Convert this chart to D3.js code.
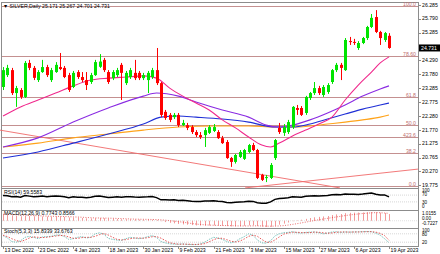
<!DOCTYPE html>
<html><head><meta charset="utf-8">
<script src="https://cdn.jsdelivr.net/npm/d3@7"></script>
<style>body{margin:0;background:#fff;}svg{display:block;font-family:"Liberation Sans",Arial,sans-serif;}</style>
</head><body><svg id="c" width="440" height="254"></svg>
<script>
// ---------- DATA ----------
const title = "SILVER,Daily  25.171 25.267 24.701 24.731";
const tickLabels = ["13 Dec 2022","23 Dec 2022","4 Jan 2023","18 Jan 2023","30 Jan 2023","9 Feb 2023","21 Feb 2023","3 Mar 2023","15 Mar 2023","27 Mar 2023","6 Apr 2023","19 Apr 2023"];
const barsPerTick = 8;
const open  = [23.32,23.75,23.93,23.10,23.21,22.96,24.19,24.01,23.57,23.86,24.04,23.57,23.86,24.04,24.01,23.75,23.32,23.86,23.68,23.57,23.50,23.75,24.05,24.30,23.86,23.64,23.75,24.12,23.46,23.68,23.83,23.83,23.64,23.57,23.68,23.93,23.46,22.42,22.31,22.23,22.31,21.94,21.94,21.87,21.69,21.58,21.58,21.66,21.73,21.69,21.47,21.33,20.75,20.61,20.79,20.72,20.97,21.22,21.04,20.14,20.03,20.03,20.75,21.84,21.66,21.69,21.87,22.56,22.56,22.38,22.92,23.10,23.28,23.03,23.14,23.50,23.93,24.12,23.93,24.98,24.95,24.73,24.91,25.09,25.49,25.85,25.31,25.02,25.171];
const high  = [24.04,24.12,24.01,23.36,23.28,24.26,24.30,24.08,23.93,24.30,24.12,24.01,24.22,24.55,24.08,23.83,23.90,23.93,23.86,23.86,23.83,24.30,24.51,24.37,23.93,23.93,24.01,24.19,23.90,24.01,24.30,23.90,23.83,23.90,24.01,24.73,23.50,22.49,22.38,22.38,22.38,22.13,22.02,21.94,21.76,21.69,21.84,21.94,21.98,21.76,21.55,21.40,20.79,20.90,21.04,21.08,21.26,21.30,21.08,20.18,20.14,20.57,21.44,22.02,21.98,22.13,22.63,22.67,22.63,23.00,23.14,23.50,23.36,23.39,23.46,23.97,24.19,24.19,25.09,25.13,25.06,24.98,25.13,25.53,25.96,26.10,25.35,25.31,25.267];
const low   = [23.21,23.68,23.03,22.60,22.89,22.92,23.93,23.57,23.50,23.83,23.68,23.50,23.83,23.93,23.64,23.14,23.28,23.61,23.50,23.21,23.43,23.72,24.01,23.86,23.43,23.57,23.68,22.85,23.39,23.61,23.57,23.57,23.57,23.10,23.61,23.39,22.23,22.13,22.05,22.16,21.87,21.91,21.76,21.62,21.51,21.44,21.15,21.62,21.69,21.44,21.26,20.72,20.43,20.55,20.75,20.68,20.93,21.00,19.99,19.92,19.88,19.99,20.68,21.62,21.55,21.62,21.80,22.31,22.27,22.31,22.85,23.03,23.03,22.96,23.07,23.43,23.86,23.57,23.90,24.84,24.84,24.66,24.87,25.02,25.45,25.27,24.84,24.95,24.701];
const close = [23.93,24.01,23.10,23.28,22.96,24.19,24.01,23.65,23.86,24.04,23.75,23.93,24.12,23.97,23.68,23.21,23.83,23.68,23.57,23.39,23.75,24.22,24.24,23.93,23.50,23.86,23.93,23.83,23.83,23.93,23.64,23.64,23.75,23.83,23.93,23.46,22.31,22.20,22.13,22.31,21.94,22.02,21.84,21.69,21.58,21.51,21.76,21.87,21.87,21.47,21.29,20.75,20.61,20.86,20.97,21.04,21.22,21.04,20.03,19.96,20.06,20.50,21.40,21.69,21.87,22.05,22.60,22.49,22.31,22.96,23.10,23.28,23.10,23.32,23.39,23.93,24.12,24.01,25.02,24.95,24.94,24.91,25.09,25.49,25.82,25.31,25.09,25.27,24.731];
// moving averages: [bar index, value]
const maPink   = [[0,22.27],[4,22.60],[8,22.85],[12,23.10],[16,23.36],[20,23.57],[24,23.64],[28,23.68],[32,23.72],[35,23.64],[38,23.28],[41,22.99],[44,22.74],[47,22.49],[50,22.13],[53,21.84],[56,21.51],[59,21.22],[61,21.15],[63,21.29],[66,21.55],[69,21.76],[72,21.98],[75,22.23],[78,22.85],[81,23.39],[84,23.86],[86,24.19],[88,24.41]];
const maPurple = [[0,21.15],[8,21.48],[16,22.05],[24,22.56],[32,22.99],[35,23.10],[40,22.99],[44,22.78],[50,22.49],[56,22.23],[60,21.94],[63,21.87],[66,21.94],[70,22.13],[74,22.38],[78,22.67],[82,22.99],[86,23.25],[88,23.36]];
const maBlue   = [[0,20.75],[8,20.97],[16,21.29],[24,21.62],[32,21.98],[36,22.23],[40,22.27],[44,22.23],[50,22.16],[56,22.05],[62,21.87],[66,21.87],[70,21.98],[74,22.16],[78,22.34],[82,22.52],[86,22.67],[88,22.74]];
const maOrange = [[0,21.15],[8,21.29],[16,21.48],[24,21.62],[32,21.76],[40,21.87],[48,21.91],[56,21.91],[62,21.87],[66,21.87],[70,21.91],[74,21.98],[78,22.05],[82,22.13],[86,22.23],[88,22.31]];
// trend lines: [bar index, price] endpoints
const trendLines = [[[-0.7,21.76],[76.8,19.67]],[[55.2,19.67],[94.6,20.35]]];
// fibonacci levels
const fibLabels = ["100.0","78.60","61.8","50.0","423.6","38.2","0.0"];
const fibPrices = [26.25,24.44,22.96,21.94,21.51,20.93,19.74];
const priceTicks = [26.285,25.790,25.285,24.780,24.290,23.780,23.285,22.775,22.280,21.770,21.275,20.765,20.270,19.775];
const lastPrice = 24.731;
// RSI(14)
const rsi = [68,66,60,62,58,68,64,60,62,64,61,63,65,63,60,55,60,58,57,55,58,63,64,60,56,58,60,57,60,61,59,58,59,60,62,55,42,43,41,42,38,39,37,34,32,33,35,36,37,34,32,27,25,28,30,31,34,33,25,22,22,30,45,50,52,54,60,59,57,63,65,66,64,66,67,72,74,72,76,75,75,74,76,79,82,75,70,71,59.5583];
const rsiLevels = [70,30];
const rsiTicks = [100,70,30,0];
// MACD(12,26,9)
const macdMain = [0.70,0.68,0.62,0.58,0.52,0.55,0.55,0.52,0.50,0.50,0.48,0.48,0.50,0.48,0.45,0.38,0.37,0.35,0.32,0.28,0.27,0.30,0.32,0.30,0.25,0.22,0.20,0.18,0.17,0.17,0.16,0.14,0.13,0.12,0.12,0.08,-0.05,-0.15,-0.24,-0.30,-0.37,-0.42,-0.46,-0.50,-0.54,-0.56,-0.56,-0.55,-0.54,-0.55,-0.57,-0.62,-0.66,-0.65,-0.62,-0.58,-0.54,-0.52,-0.60,-0.68,-0.7227,-0.70,-0.58,-0.45,-0.33,-0.20,-0.05,0.05,0.12,0.22,0.32,0.40,0.45,0.50,0.55,0.66,0.74,0.78,0.88,0.92,0.94,0.95,0.96,0.99,1.0155,0.99,0.94,0.90,0.7743];
const macdSignal = [0.75,0.74,0.72,0.70,0.67,0.64,0.62,0.60,0.58,0.56,0.54,0.52,0.51,0.50,0.49,0.47,0.45,0.43,0.41,0.38,0.35,0.33,0.32,0.31,0.30,0.29,0.27,0.25,0.23,0.21,0.19,0.18,0.17,0.16,0.15,0.14,0.11,0.07,0.02,-0.04,-0.10,-0.17,-0.24,-0.31,-0.38,-0.43,-0.47,-0.50,-0.52,-0.54,-0.55,-0.56,-0.57,-0.59,-0.60,-0.60,-0.60,-0.59,-0.59,-0.60,-0.62,-0.63,-0.62,-0.60,-0.56,-0.50,-0.42,-0.34,-0.25,-0.16,-0.07,0.03,0.12,0.20,0.28,0.36,0.44,0.52,0.60,0.67,0.73,0.79,0.84,0.88,0.92,0.94,0.93,0.90,0.8566];
const macdTicks = [1.0155,0.00,-0.7227];
// Stochastic(5,3,3)
const stochMain = [67,50,25,20,30,55,62,55,45,58,60,62,70,72,60,40,45,55,60,50,55,80,87,78,47,40,35,33,45,55,50,45,50,60,67,55,25,15,8,6,5,8,4,3,3,8,20,40,55,50,40,25,15,25,45,60,80,70,35,15,13,30,65,80,88,90,95,88,85,90,92,93,88,80,85,93,95,90,93,92,93,94,95,96,95,85,70,45,15.8339];
const stochSignal = [70,60,45,32,25,35,50,58,55,53,55,60,64,68,67,57,48,47,53,55,55,62,74,82,71,55,40,36,38,45,50,50,48,52,59,60,49,32,16,10,6,6,6,5,4,5,10,23,38,48,48,38,27,22,28,43,62,70,62,40,21,19,36,58,78,86,91,91,89,88,89,92,91,87,84,86,91,93,93,92,93,93,94,95,95,92,83,67,33.6763];
const stochLevels = [80,20];
const stochTicks = [100,80,20];

// ---------- CHART ----------
const svg = d3.select("#c");
const N = close.length;
const plotL = 1, plotR = 418;
const P = {main:[2,188], rsi:[188,210], macd:[210,228], stoch:[228,246]};
const x = d3.scaleLinear().domain([0, N-1]).range([3, 389]);
const yM = d3.scaleLinear().domain([19.775, 26.285]).range([185, 5]);
const yR = d3.scaleLinear().domain([0,100]).range([207,190]);
const yD = d3.scaleLinear().domain([-0.7227,1.0155]).range([227,212]);
const yS = d3.scaleLinear().domain([0,100]).range([245,231]);
const fs = 5.2, fsS = 4.6;
const gray = "#8c8c8c";

Object.values(P).forEach(([t,b])=>{
  svg.append("rect").attr("x",plotL+0.5).attr("y",t+0.5).attr("width",plotR-plotL).attr("height",b-t)
    .attr("fill","none").attr("stroke",gray).attr("stroke-width",1);
});

const mainG = svg.append("g");
fibPrices.forEach((p,i)=>{
  const yy = Math.round(yM(p))+0.5;
  mainG.append("line").attr("x1",plotL+1).attr("x2",plotR).attr("y1",yy).attr("y2",yy)
    .attr("stroke","#c49090").attr("stroke-width",1);
  mainG.append("text").attr("x",plotR-2).attr("y",yy-1).attr("text-anchor","end")
    .attr("font-size",fs).attr("fill","#c07070").text(fibLabels[i]);
});
trendLines.forEach(seg=>{
  mainG.append("line").attr("x1",x(seg[0][0])).attr("y1",yM(seg[0][1])).attr("x2",x(seg[1][0])).attr("y2",yM(seg[1][1]))
    .attr("stroke","#f06a6a").attr("stroke-width",0.9);
});
const maLine = d3.line().x(d=>x(d[0])).y(d=>yM(d[1])).curve(d3.curveMonotoneX);
[[maOrange,"#ffa31a"],[maBlue,"#1f2fd6"],[maPurple,"#8a2be2"],[maPink,"#f0288c"]].forEach(([d,c])=>{
  mainG.append("path").attr("d",maLine(d)).attr("fill","none").attr("stroke",c).attr("stroke-width",1.1);
});
const bars = d3.range(N);
const up = i=>close[i]>=open[i];
const col = i=> up(i) ? "#00e400" : "#ff0000";
mainG.selectAll("line.w").data(bars).join("line").attr("class","w")
  .attr("x1",i=>Math.round(x(i))+0.5).attr("x2",i=>Math.round(x(i))+0.5)
  .attr("y1",i=>yM(high[i])).attr("y2",i=>yM(low[i])).attr("stroke",col).attr("stroke-width",1);
mainG.selectAll("rect.b").data(bars).join("rect").attr("class","b")
  .attr("x",i=>Math.round(x(i))-1).attr("width",3)
  .attr("y",i=>yM(Math.max(open[i],close[i])))
  .attr("height",i=>Math.max(1,Math.abs(yM(open[i])-yM(close[i]))))
  .attr("fill",col);

svg.append("text").attr("x",3).attr("y",8).attr("font-size",fs).attr("fill","#000").text("\u25BC "+title);

priceTicks.forEach(p=>{
  if (Math.abs(p-lastPrice)<0.2) return;
  const yy = yM(p);
  svg.append("line").attr("x1",plotR).attr("x2",plotR+3).attr("y1",Math.round(yy)+0.5).attr("y2",Math.round(yy)+0.5).attr("stroke",gray);
  svg.append("text").attr("x",plotR+4).attr("y",yy+1.8).attr("font-size",fs).attr("fill","#000").text(p.toFixed(3));
});
svg.append("rect").attr("x",plotR+1).attr("y",yM(lastPrice)-3.5).attr("width",21).attr("height",7).attr("fill","#000");
svg.append("text").attr("x",plotR+3).attr("y",yM(lastPrice)+1.8).attr("font-size",fs).attr("fill","#fff").text(lastPrice.toFixed(3));

// RSI
rsiLevels.forEach(v=>svg.append("line").attr("x1",plotL+1).attr("x2",plotR).attr("y1",yR(v)).attr("y2",yR(v)).attr("stroke","#bbb").attr("stroke-dasharray","1,1").attr("stroke-width",0.6));
svg.append("path").attr("d",d3.line().x((d,i)=>x(i)).y(d=>yR(d))(rsi)).attr("fill","none").attr("stroke","#000").attr("stroke-width",1.5);
svg.append("text").attr("x",4).attr("y",194).attr("font-size",fs).text("RSI(14) "+rsi[N-1].toFixed(4));
[[rsiTicks[0],192],[rsiTicks[1],196.3],[rsiTicks[2],203.5],[rsiTicks[3],208.3]].forEach(([v,yy])=>svg.append("text").attr("x",plotR+4).attr("y",yy).attr("font-size",fsS).text(v));

// MACD
svg.append("line").attr("x1",plotL+1).attr("x2",plotR).attr("y1",yD(0)).attr("y2",yD(0)).attr("stroke","#ccc").attr("stroke-dasharray","1,1").attr("stroke-width",0.6);
svg.selectAll("line.h").data(bars).join("line").attr("class","h")
  .attr("x1",i=>Math.round(x(i))+0.5).attr("x2",i=>Math.round(x(i))+0.5)
  .attr("y1",yD(0)).attr("y2",i=>yD(macdMain[i])).attr("stroke","#f08080").attr("stroke-width",0.8);
svg.append("path").attr("d",d3.line().x((d,i)=>x(i)).y(d=>yD(d))(macdSignal)).attr("fill","none").attr("stroke","#e03030").attr("stroke-width",0.7).attr("stroke-dasharray","1,1.5");
svg.append("text").attr("x",4).attr("y",215).attr("font-size",fs).text("MACD(12,26,9) "+macdMain[N-1].toFixed(4)+" "+macdSignal[N-1].toFixed(4));
[[macdTicks[0],215],[macdTicks[1],220],[macdTicks[2],224.8]].forEach(([v,yy])=>svg.append("text").attr("x",plotR+4).attr("y",yy).attr("font-size",fsS).text(v===0?"0.00":v.toString()));

// Stochastic
stochLevels.forEach(v=>svg.append("line").attr("x1",plotL+1).attr("x2",plotR).attr("y1",yS(v)).attr("y2",yS(v)).attr("stroke","#bbb").attr("stroke-dasharray","1,1").attr("stroke-width",0.6));
svg.append("path").attr("d",d3.line().x((d,i)=>x(i)).y(d=>yS(d))(stochMain)).attr("fill","none").attr("stroke","#5fb8b0").attr("stroke-width",0.8).attr("stroke-dasharray","1.5,1");
svg.append("path").attr("d",d3.line().x((d,i)=>x(i)).y(d=>yS(d))(stochSignal)).attr("fill","none").attr("stroke","#e03030").attr("stroke-width",0.8).attr("stroke-dasharray","1.5,1.5");
svg.append("text").attr("x",4).attr("y",233).attr("font-size",fs).text("Stoch(5,3,3) "+stochMain[N-1].toFixed(4)+" "+stochSignal[N-1].toFixed(4));
[[stochTicks[0],231.8],[stochTicks[1],236],[stochTicks[2],244]].forEach(([v,yy])=>svg.append("text").attr("x",plotR+4).attr("y",yy).attr("font-size",fsS).text(v));

tickLabels.forEach((t,k)=>{
  const xx = Math.round(x(k*barsPerTick))+0.5;
  svg.append("line").attr("x1",xx).attr("x2",xx).attr("y1",246).attr("y2",249).attr("stroke",gray);
  svg.append("text").attr("x",xx+1).attr("y",252).attr("font-size",fs).text(t);
});
</script></body></html>
